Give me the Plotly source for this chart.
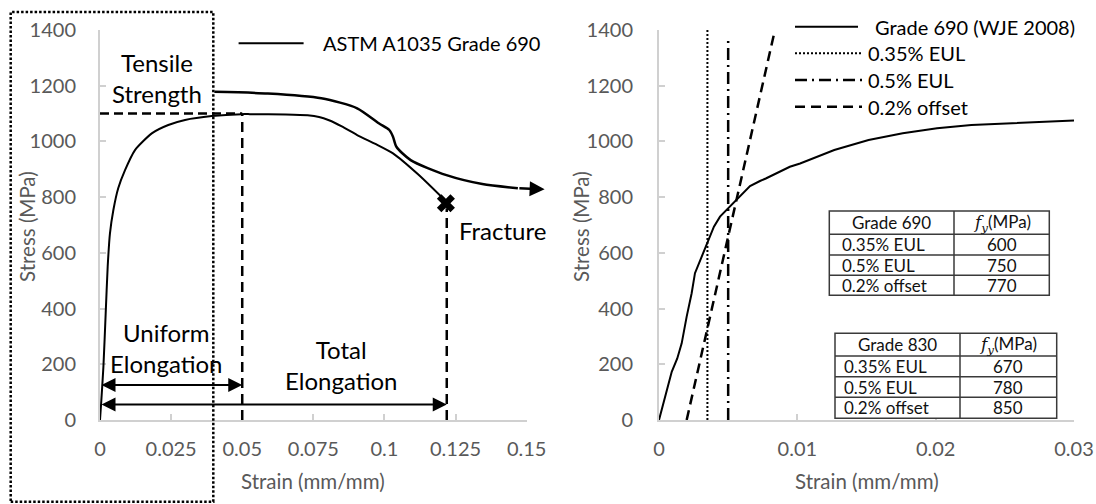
import plotly.graph_objects as go

W, H = 1096, 504

# ---------------- data ----------------
# Left panel: ASTM A1035 Grade 690 stress-strain curve
a1035_strain = [0, 0.0004, 0.0012, 0.0020, 0.0027, 0.0035, 0.0047, 0.0064, 0.0088,
                0.0123, 0.0182, 0.0240, 0.0299, 0.0393, 0.0498, 0.0527, 0.0653,
                0.0730, 0.0770, 0.0805, 0.0850, 0.0904, 0.0970, 0.1030, 0.1120, 0.1216]
a1035_stress = [0, 60, 191, 383, 550, 670, 754, 832, 897,
                969, 1029, 1059, 1077, 1091, 1098, 1098, 1097,
                1094, 1088, 1076, 1054, 1023, 990, 957, 880, 785]
fracture_strain = [0.1216]
fracture_stress = [778]
uts_stress = 1100
uniform_elong = 0.05
total_elong = 0.1219
fracture_line_top = 760
uniform_arrow_stress = 126
total_arrow_stress = 56

# "Tensile Strength" pointer curve
tensile_strain = [0.0402, 0.0590, 0.0778, 0.0904, 0.0980, 0.1017, 0.1030, 0.1042,
                  0.1092, 0.1218, 0.1344, 0.1469]
tensile_stress = [1178, 1172, 1155, 1119, 1065, 1041, 1017, 981,
                  933, 879, 847, 832]
tensile_tip = (0.1563, 828)

# Right panel: Grade 690 (WJE 2008)
wje_strain = [0, 0.00043, 0.00092, 0.00132, 0.00164, 0.0020, 0.00236, 0.0026, 0.00308,
              0.00356, 0.00397, 0.00441, 0.00501, 0.00561, 0.00658, 0.0073, 0.00772,
              0.00946, 0.0102, 0.01267, 0.01515, 0.01762, 0.0201, 0.02258, 0.02506,
              0.02754, 0.0300]
wje_stress = [0, 84, 173, 221, 275, 371, 455, 527, 586,
              640, 694, 730, 760, 790, 840, 858, 867,
              909, 921, 969, 1005, 1029, 1047, 1059, 1065,
              1071, 1075]
eul035_strain = [0.0035, 0.0035]
eul035_stress = [0, 1400]
eul05_strain = [0.005, 0.005]
eul05_stress = [0, 1370]
offset_strain = [0.002, 0.00838]
offset_stress = [0, 1400]

right_legend_names = ["Grade 690 (WJE 2008)", "0.35% EUL", "0.5% EUL", "0.2% offset"]
left_legend_name = "ASTM A1035 Grade 690"

table_methods = ["0.35% EUL", "0.5% EUL", "0.2% offset"]
g690_fy = [600, 750, 770]
g830_fy = [670, 780, 850]
fy_header = "<span style=\"font-family:DejaVu Serif\"><i>f<sub>y</sub></i></span>(MPa)"

left_xticks = [0, 0.025, 0.05, 0.075, 0.1, 0.125, 0.15]
left_xticktext = ["0", "0.025", "0.05", "0.075", "0.1", "0.125", "0.15"]
right_xticks = [0, 0.01, 0.02, 0.03]
right_xticktext = ["0", "0.01", "0.02", "0.03"]
yticks = [0, 200, 400, 600, 800, 1000, 1200, 1400]

# ---------------- layout geometry (pixels) ----------------
LX0, LX1 = 100, 526.7
RX0, RX1 = 659, 1074
YT, YB = 30, 420
FONT = "Lato, 'Open Sans', sans-serif"
AXC = "#d0d0d0"
TXC = "#595959"


def px(x):
    return x / W


def py(y):
    return 1 - y / H


fig = go.Figure()

BLK = "black"
# left panel traces
fig.add_trace(go.Scatter(x=a1035_strain, y=a1035_stress, mode="lines",
                         line=dict(color=BLK, width=2, shape="spline", smoothing=0.6),
                         xaxis="x", yaxis="y", showlegend=False, hoverinfo="skip"))
fig.add_trace(go.Scatter(x=tensile_strain, y=tensile_stress, mode="lines",
                         line=dict(color=BLK, width=2.5, shape="spline", smoothing=0.7),
                         xaxis="x", yaxis="y", showlegend=False, hoverinfo="skip"))
fig.add_trace(go.Scatter(x=[0, uniform_elong], y=[uts_stress, uts_stress], mode="lines",
                         line=dict(color=BLK, width=2.5, dash="9px,5px"),
                         xaxis="x", yaxis="y", showlegend=False, hoverinfo="skip"))
fig.add_trace(go.Scatter(x=[uniform_elong, uniform_elong], y=[0, uts_stress], mode="lines",
                         line=dict(color=BLK, width=2.5, dash="10px,6px"),
                         xaxis="x", yaxis="y", showlegend=False, hoverinfo="skip"))
fig.add_trace(go.Scatter(x=[total_elong, total_elong], y=[0, fracture_line_top], mode="lines",
                         line=dict(color=BLK, width=2.5, dash="10px,6px"),
                         xaxis="x", yaxis="y", showlegend=False, hoverinfo="skip"))
fig.add_trace(go.Scatter(x=fracture_strain, y=fracture_stress, mode="markers",
                         marker=dict(symbol="x", size=16, color=BLK),
                         xaxis="x", yaxis="y", showlegend=False, hoverinfo="skip",
                         cliponaxis=False))

# right panel traces
fig.add_trace(go.Scatter(x=wje_strain, y=wje_stress, mode="lines",
                         line=dict(color=BLK, width=2),
                         xaxis="x2", yaxis="y2", showlegend=False, hoverinfo="skip"))
fig.add_trace(go.Scatter(x=eul035_strain, y=eul035_stress, mode="lines",
                         line=dict(color=BLK, width=2, dash="2px,2px"),
                         xaxis="x2", yaxis="y2", showlegend=False, hoverinfo="skip"))
fig.add_trace(go.Scatter(x=eul05_strain, y=eul05_stress, mode="lines",
                         line=dict(color=BLK, width=2.5, dash="12px,5px,2px,5px"),
                         xaxis="x2", yaxis="y2", showlegend=False, hoverinfo="skip"))
fig.add_trace(go.Scatter(x=offset_strain, y=offset_stress, mode="lines",
                         line=dict(color=BLK, width=2.5, dash="10px,6px"),
                         xaxis="x2", yaxis="y2", showlegend=False, hoverinfo="skip"))

annotations = []
shapes = []

# arrows (left panel)
arrow_common = dict(xref="x", yref="y", axref="x", ayref="y", text="", showarrow=True,
                    arrowcolor=BLK)
annotations.append(dict(x=uniform_elong, y=uniform_arrow_stress, ax=0, ay=uniform_arrow_stress,
                        arrowhead=2, startarrowhead=2, arrowside="end+start",
                        arrowsize=1.4, startarrowsize=1.4, arrowwidth=2, **arrow_common))
annotations.append(dict(x=total_elong, y=total_arrow_stress, ax=0, ay=total_arrow_stress,
                        arrowhead=2, startarrowhead=2, arrowside="end+start",
                        arrowsize=1.4, startarrowsize=1.4, arrowwidth=2, **arrow_common))
annotations.append(dict(x=tensile_tip[0], y=tensile_tip[1], ax=tensile_strain[-1],
                        ay=tensile_stress[-1], arrowhead=2, arrowsize=1.2, arrowwidth=2.5,
                        **arrow_common))

# text labels (left panel)
lab_font = dict(family=FONT, size=24, color=BLK)
annotations.append(dict(x=0.0200, y=1229, xref="x", yref="y", text="Tensile<br>Strength",
                        showarrow=False, font=lab_font, xanchor="center", yanchor="middle"))
annotations.append(dict(x=0.0232, y=257, xref="x", yref="y", text="Uniform<br>Elongation",
                        showarrow=False, font=lab_font, xanchor="center", yanchor="middle"))
annotations.append(dict(x=0.0848, y=197, xref="x", yref="y", text="Total<br>Elongation",
                        showarrow=False, font=lab_font, xanchor="center", yanchor="middle"))
annotations.append(dict(x=0.1255, y=682, xref="x", yref="y", text="Fracture",
                        showarrow=False, font=lab_font, xanchor="left", yanchor="middle"))

# axis titles
tfont = dict(family=FONT, size=20.5, color=TXC)
for tx, ty, txt, ang in [(27, 227, "Stress (MPa)", -90), (581, 227, "Stress (MPa)", -90),
                         ((LX0 + LX1) / 2, 481, "Strain (mm/mm)", 0),
                         ((RX0 + RX1) / 2, 481, "Strain (mm/mm)", 0)]:
    annotations.append(dict(x=px(tx), y=py(ty), xref="paper", yref="paper", text=txt,
                            textangle=ang, showarrow=False, font=tfont,
                            xanchor="center", yanchor="middle"))

# left legend
leg_font = dict(family=FONT, size=20, color=BLK)
shapes.append(dict(type="line", xref="paper", yref="paper", x0=px(238.6), x1=px(303.6),
                   y0=py(43.3), y1=py(43.3), line=dict(color=BLK, width=2)))
annotations.append(dict(x=px(321.4), y=py(43.3), xref="paper", yref="paper",
                        text=left_legend_name, showarrow=False, font=leg_font,
                        xanchor="left", yanchor="middle"))

# right legend
leg_rows = [26.7, 53.3, 80, 106.7]
leg_dash = ["solid", "2px,2px", "12px,5px,2px,5px", "10px,6px"]
leg_w = [2, 2, 2.5, 2.5]
leg_text_x = [873.3, 866, 866, 866]
leg_line_end = [858, 862, 862, 862]
for name, yy, dsh, lw, tx, le in zip(right_legend_names, leg_rows, leg_dash, leg_w,
                                     leg_text_x, leg_line_end):
    shapes.append(dict(type="line", xref="paper", yref="paper", x0=px(795), x1=px(le),
                       y0=py(yy), y1=py(yy), line=dict(color=BLK, width=lw, dash=dsh)))
    annotations.append(dict(x=px(tx), y=py(yy), xref="paper", yref="paper", text=name,
                            showarrow=False, font=leg_font, xanchor="left", yanchor="middle"))

# dotted frame around left part
shapes.append(dict(type="rect", xref="paper", yref="paper", x0=px(10.7), x1=px(213.3),
                   y0=py(501.7), y1=py(12), line=dict(color=BLK, width=2.5, dash="2.5px,2px")))

# tables
TBL = "#3a3a3a"
tab_font = dict(family=FONT, size=17, color="#111111")


def add_table(xe, ye, title, names, vals, pad):
    x0, xm, x1 = xe
    shapes.append(dict(type="rect", xref="paper", yref="paper", x0=px(x0), x1=px(x1),
                       y0=py(ye[-1]), y1=py(ye[0]), fillcolor="white",
                       line=dict(color=TBL, width=1.5), layer="above"))
    shapes.append(dict(type="line", xref="paper", yref="paper", x0=px(xm), x1=px(xm),
                       y0=py(ye[-1]), y1=py(ye[0]), line=dict(color=TBL, width=1.5)))
    for yy in ye[1:-1]:
        shapes.append(dict(type="line", xref="paper", yref="paper", x0=px(x0), x1=px(x1),
                           y0=py(yy), y1=py(yy), line=dict(color=TBL, width=1.5)))
    yc = [(ye[i] + ye[i + 1]) / 2 for i in range(len(ye) - 1)]
    cell = dict(xref="paper", yref="paper", showarrow=False, font=tab_font,
                yanchor="middle", borderpad=0)
    annotations.append(dict(x=px((x0 + xm) / 2), y=py(yc[0]), text=title,
                            xanchor="center", **cell))
    annotations.append(dict(x=px((xm + x1) / 2), y=py(yc[0]), text=fy_header,
                            xanchor="center", **cell))
    for nm, v, yy in zip(names, vals, yc[1:]):
        annotations.append(dict(x=px(x0 + pad), y=py(yy), text=nm, xanchor="left", **cell))
        annotations.append(dict(x=px((xm + x1) / 2), y=py(yy), text=str(v),
                                xanchor="center", **cell))


add_table((829.3, 954, 1049.3), [211, 234.3, 255, 275.3, 295.3], "Grade 690",
          table_methods, g690_fy, 12)
add_table((835, 960, 1056.7), [333.3, 356, 376.7, 397.3, 418.3], "Grade 830",
          table_methods, g830_fy, 8)

axis_common = dict(showline=True, linecolor=AXC, linewidth=2, ticks="inside", ticklen=6,
                   tickwidth=1.5, tickcolor=AXC, showgrid=False, zeroline=False,
                   tickfont=dict(family=FONT, size=20, color=TXC), layer="below traces",
                   automargin=False, fixedrange=True)

ydom = [py(YB), py(YT)]
fig.update_layout(
    width=W, height=H,
    margin=dict(l=0, r=0, t=0, b=0, pad=0),
    paper_bgcolor="white", plot_bgcolor="white",
    font=dict(family=FONT),
    showlegend=False,
    xaxis=dict(domain=[px(LX0), px(LX1)], range=[0, 0.15], tickvals=left_xticks,
               ticktext=left_xticktext, anchor="y", ticklabelstandoff=10, **axis_common),
    yaxis=dict(domain=ydom, range=[0, 1400], tickvals=yticks, anchor="x",
               ticklabelstandoff=18, **axis_common),
    xaxis2=dict(domain=[px(RX0), px(RX1)], range=[0, 0.03], tickvals=right_xticks,
                ticktext=right_xticktext, anchor="y2", ticklabelstandoff=10, **axis_common),
    yaxis2=dict(domain=ydom, range=[0, 1400], tickvals=yticks, anchor="x2",
                ticklabelstandoff=20, **axis_common),
    annotations=annotations,
    shapes=shapes,
)

fig.write_html("out.html")
